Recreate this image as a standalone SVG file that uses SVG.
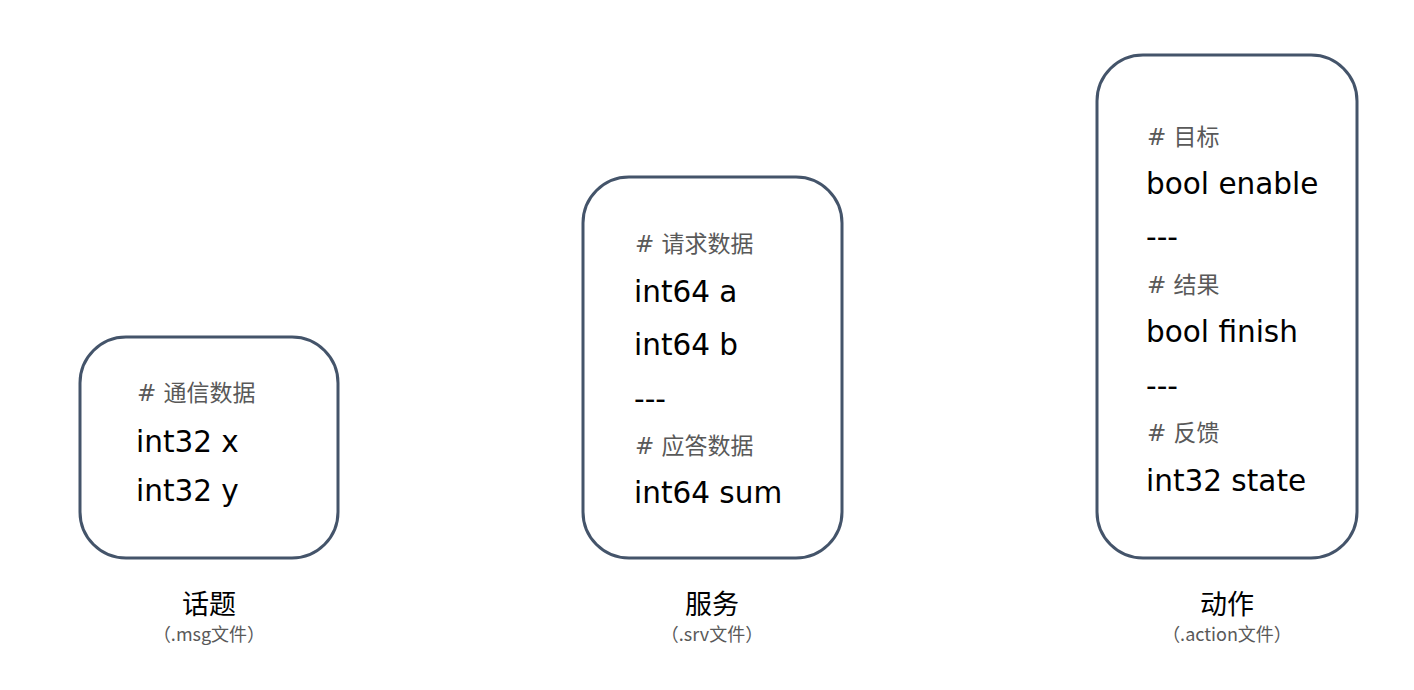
<svg xmlns="http://www.w3.org/2000/svg" width="1414" height="690" viewBox="0 0 1414 690">
<style>
.box{fill:#ffffff;stroke:#44546A;stroke-width:3}
.code{font-family:"DejaVu Sans","Noto Sans CJK SC",sans-serif;font-size:29.5px;fill:#000000}
.cmt{font-family:"DejaVu Sans","Noto Sans CJK SC",sans-serif;font-size:23px;fill:#595959}
.title{font-family:"Noto Sans CJK SC",sans-serif;font-size:27px;fill:#000000;text-anchor:middle}
.sub{font-family:"Noto Sans CJK SC",sans-serif;font-size:18px;fill:#595959;text-anchor:middle}
</style>
<rect width="1414" height="690" fill="#ffffff"/>
<g id="topic">
<rect class="box" x="80" y="337" width="258" height="221" rx="46" ry="46"/>
<text class="cmt" x="137" y="401"># 通信数据</text>
<text class="code" x="136" y="452">int32 x</text>
<text class="code" x="136" y="501">int32 y</text>
<text class="title" x="209" y="614">话题</text>
<text class="sub" x="209" y="641">（.msg文件）</text>
</g>
<g id="service">
<rect class="box" x="583" y="177" width="259" height="381" rx="46" ry="46"/>
<text class="cmt" x="635" y="252"># 请求数据</text>
<text class="code" x="634" y="302">int64 a</text>
<text class="code" x="634" y="355">int64 b</text>
<text class="code" x="634" y="409">---</text>
<text class="cmt" x="635" y="454"># 应答数据</text>
<text class="code" x="634" y="503">int64 sum</text>
<text class="title" x="712" y="614">服务</text>
<text class="sub" x="712" y="641">（.srv文件）</text>
</g>
<g id="action">
<rect class="box" x="1097" y="55" width="260" height="503" rx="46" ry="46"/>
<text class="cmt" x="1147" y="145"># 目标</text>
<text class="code" x="1146" y="194">bool enable</text>
<text class="code" x="1146" y="247">---</text>
<text class="cmt" x="1147" y="293"># 结果</text>
<text class="code" x="1146" y="342">bool finish</text>
<text class="code" x="1146" y="396">---</text>
<text class="cmt" x="1147" y="441"># 反馈</text>
<text class="code" x="1146" y="491">int32 state</text>
<text class="title" x="1227" y="614">动作</text>
<text class="sub" x="1227" y="641">（.action文件）</text>
</g>
<g id="connectors"></g>
</svg>
